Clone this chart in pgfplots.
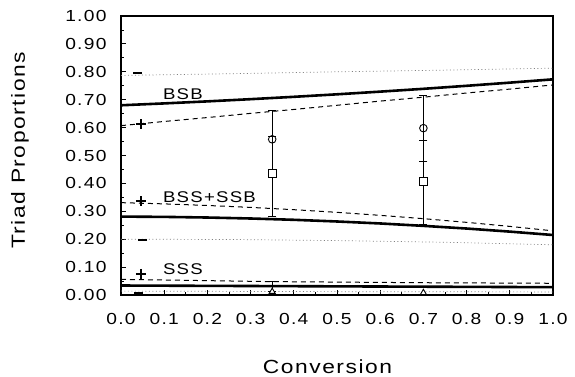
\documentclass[border=0pt]{standalone}
\usepackage{fontspec}
\setmainfont{Liberation Sans}[FakeStretch=1.2, LetterSpace=8]
\usepackage{pgfplots}
\pgfplotsset{compat=1.18}

\newcommand{\tickfont}{\fontsize{16bp}{19bp}\selectfont}
\newcommand{\labelfont}{\fontsize{19bp}{22bp}\selectfont}
\newcommand{\curvefont}{\fontsize{15.5bp}{19bp}\selectfont}

\begin{document}
\begin{tikzpicture}
\begin{axis}[
  at={(0,0)}, anchor=south west,
  scale only axis, width=432bp, height=279bp,
  xmin=0, xmax=1, ymin=0, ymax=1,
  axis line style={line width=1.2bp},
  tick align=inside, xtick pos=bottom, ytick pos=left,
  major tick length=5bp, minor tick length=3bp,
  tick style={line width=0.8bp, black},
  xtick={0,0.1,...,1.0}, ytick={0,0.1,...,1.0},
  minor x tick num=1, minor y tick num=1,
  /pgf/number format/assume math mode=true,
  xticklabel style={font=\tickfont, yshift=-15bp,
    /pgf/number format/fixed, /pgf/number format/fixed zerofill, /pgf/number format/precision=1},
  yticklabel style={font=\tickfont, xshift=-11bp,
    /pgf/number format/fixed, /pgf/number format/fixed zerofill, /pgf/number format/precision=2},
  xlabel={Conversion}, ylabel={Triad Proportions},
  xlabel style={font=\labelfont, at={(axis description cs:0.478,-0.258)}, anchor=center},
  ylabel style={font=\labelfont, at={(axis description cs:-0.234,0.518)}, anchor=center},
  clip=false,
]
% model curves: solid, dashed (+) and dotted (-) for each triad
\addplot[black, line width=2.6bp] coordinates {
 (0,0.680) (0.1,0.6867) (0.2,0.6940) (0.3,0.7019) (0.4,0.7103) (0.5,0.7193)
 (0.6,0.7289) (0.7,0.7390) (0.8,0.7498) (0.9,0.7611) (1,0.7730)};
\addplot[black, line width=1bp, dash pattern=on 5bp off 4bp] coordinates {
 (0,0.607) (0.1,0.622) (0.2,0.636) (0.3,0.651) (0.4,0.665) (0.5,0.680)
 (0.6,0.695) (0.7,0.709) (0.8,0.724) (0.9,0.738) (1,0.753)};
\addplot[gray, line width=0.7bp, dash pattern=on 1bp off 2.5bp] coordinates {
 (0,0.787) (0.25,0.793) (0.5,0.800) (0.75,0.806) (1,0.813)};

\addplot[black, line width=2.6bp] coordinates {
 (0,0.281) (0.1,0.2800) (0.2,0.2777) (0.3,0.2742) (0.4,0.2695) (0.5,0.2635)
 (0.6,0.2564) (0.7,0.2478) (0.8,0.2382) (0.9,0.2272) (1,0.215)};
\addplot[black, line width=1bp, dash pattern=on 5bp off 4bp] coordinates {
 (0,0.331) (0.1,0.3266) (0.2,0.3209) (0.3,0.3140) (0.4,0.3058) (0.5,0.2963)
 (0.6,0.2855) (0.7,0.2736) (0.8,0.2604) (0.9,0.2459) (1,0.230)};
\addplot[gray, line width=0.7bp, dash pattern=on 1bp off 2.5bp] coordinates {
 (0,0.200) (0.25,0.199) (0.5,0.195) (0.75,0.189) (1,0.180)};

\addplot[black, line width=2.6bp] coordinates {
 (0,0.034) (0.5,0.031) (1,0.028)};
\addplot[black, line width=1bp, dash pattern=on 5bp off 4bp] coordinates {
 (0,0.056) (0.35,0.048) (0.7,0.044) (1,0.042)};
\addplot[gray, line width=0.7bp, dash pattern=on 1bp off 2.5bp] coordinates {
 (0,0.014) (0.5,0.012) (1,0.011)};

% curve keys
\addplot[only marks, mark=+, mark size=5bp, mark options={line width=1.8bp, black}] coordinates {
 (0.046,0.612) (0.046,0.336) (0.046,0.076)};
\addplot[only marks, mark=-, mark size=4.5bp, mark options={line width=2.4bp, black}] coordinates {
 (0.038,0.795) (0.05,0.198) (0.04,0.008)};

% measured triads with their ranges
\addplot[black, line width=0.9bp, mark=none, draw=none,
  error bars/.cd, y dir=both, y explicit,
  error bar style={line width=0.9bp, black},
  error mark options={mark size=4bp, line width=0.9bp, black, rotate=90}] coordinates {
 (0.35,0.4715) +- (0,0.1915)
 (0.70,0.4855) +- (0,0.2315)
 (0.35,0.030) +- (0,0.018)};
\addplot[only marks, mark=-, mark size=4bp, mark options={line width=0.9bp, black}] coordinates {
 (0.35,0.570) (0.70,0.553) (0.70,0.480)};
\addplot[only marks, mark=o, mark size=3.8bp, mark options={line width=0.9bp, black, fill=white}] coordinates {
 (0.35,0.558) (0.70,0.598)};
\addplot[only marks, mark=square*, mark size=4bp, mark options={line width=0.9bp, black, fill=white}] coordinates {
 (0.35,0.434) (0.70,0.406)};
\addplot[only marks, mark=triangle*, mark size=3.5bp, mark options={line width=0.9bp, black, fill=white}] coordinates {
 (0.35,0.012) (0.70,0.008)};

\node[anchor=west, inner sep=0, font=\curvefont] at (axis cs:0.097,0.720) {BSB};
\node[anchor=west, inner sep=0, font=\curvefont] at (axis cs:0.097,0.352) {BSS+SSB};
\node[anchor=west, inner sep=0, font=\curvefont] at (axis cs:0.097,0.093) {SSS};
\end{axis}
\pgfresetboundingbox
\useasboundingbox (-121bp,-82bp) rectangle (454bp,295bp);
\end{tikzpicture}
\end{document}
